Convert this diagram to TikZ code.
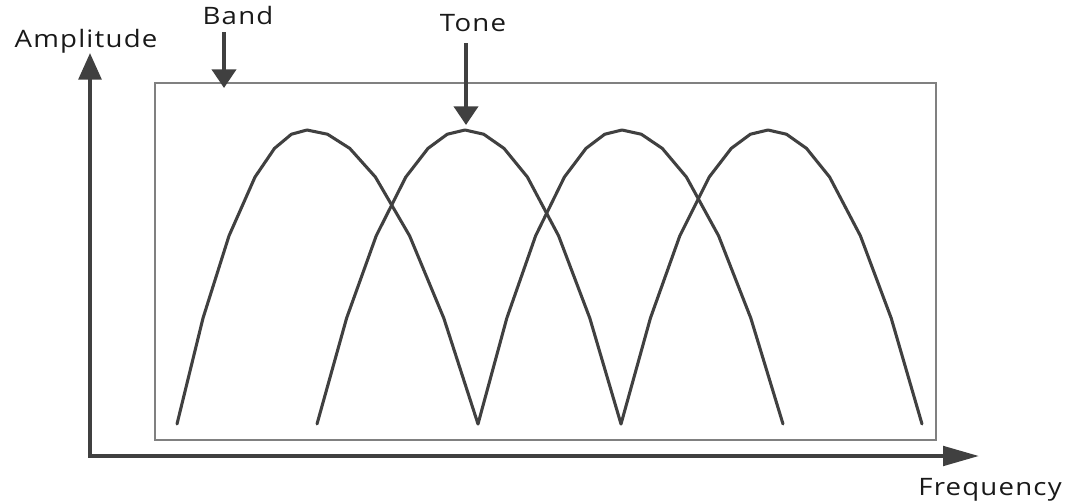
\documentclass[tikz,border=0pt]{standalone}
\usepackage{fontspec}
\setmainfont{Open Sans}[FakeStretch=1.15,LetterSpace=5]
\usepackage{xcolor}
\usetikzlibrary{arrows.meta,calc}
\definecolor{inkgray}{HTML}{404040}
\definecolor{boxgray}{HTML}{808080}
\tikzset{
  axisline/.style={line width=3pt,draw=inkgray,
        arrows={Triangle[length=20pt,width=17pt]-Triangle[length=27pt,width=14.5pt]}},
  callout/.style={line width=3pt,draw=inkgray,-{Triangle[length=14pt,width=18pt]}},
  bandbox/.style={line width=1.1pt,draw=boxgray},
  toneline/.style={line width=2.3pt,draw=inkgray,line join=round,line cap=round},
  lbl/.style={font=\fontsize{18pt}{20pt}\selectfont,text=black!90,inner sep=0pt,anchor=base},
}
% one arch: left foot, peak, right foot (pixel x)
\newcommand\archcurve[3]{%
  \draw[toneline] (#1,424)
    \foreach \f in {0.8,0.6,0.4,0.25,0.12} {-- ({#2-\f*(#2-#1)},{130+294*\f*\f})}
    -- (#2,130)
    \foreach \f in {0.12,0.25,0.4,0.6,0.8,1} {-- ({#2+\f*(#3-#2)},{130+294*\f*\f})};}

\begin{document}
\begin{tikzpicture}[x=0.75pt,y=-0.75pt]
\useasboundingbox (0,0) rectangle (1071,503);
% labels
\node[lbl] (amp) at (86,48) {Amplitude};
\node[lbl] (freq) at (990,495) {Frequency};
\node[lbl] (band) at (238,25) {Band};
\node[lbl] (tone) at (473,32) {Tone};
\coordinate (origin) at (90,456);
\coordinate (ytip) at (90,53);
\coordinate (xtip) at (979,456);
\coordinate (bandtip) at (224,88);
\coordinate (tonetip) at (466,125);
% band frame
\draw[bandbox] (155,83) rectangle (936,440);
% tones
\archcurve{177}{307}{478}
\archcurve{317}{465}{621}
\archcurve{478}{622}{783}
\archcurve{621}{768}{922}
% axes
\draw[axisline] (ytip) -- (origin) -- (xtip);
% pointers
\draw[callout] ([yshift=-5pt]band.south -| bandtip) -- (bandtip);
\draw[callout] ([yshift=-8pt]tone.south -| tonetip) -- (tonetip);
\end{tikzpicture}
\end{document}
